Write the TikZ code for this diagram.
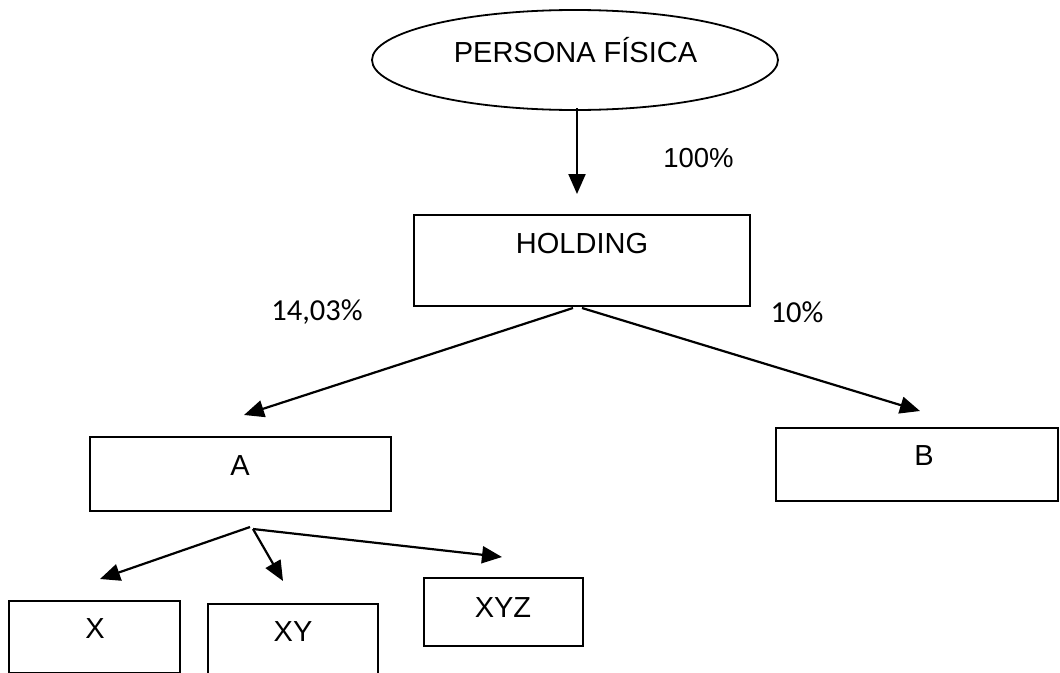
\documentclass[tikz,border=0pt]{standalone}
\usepackage{fontspec}
\setmainfont{Liberation Sans}
\newfontfamily\calib{Carlito}
\usetikzlibrary{shapes.geometric,arrows.meta}
\begin{document}
\begin{tikzpicture}[x=1pt,y=-1pt,
  box/.style={draw,line width=1.8pt,rectangle,inner sep=0pt},
  txt/.style={inner sep=0pt,font=\fontsize{29}{34}\selectfont},
  pct/.style={inner sep=0pt,font=\calib\fontsize{30.5}{36}\selectfont},
  conn/.style={line width=2.2pt,-{Triangle[length=20pt,width=17pt]}}]
\useasboundingbox (0,0) rectangle (1060,672);
\fill[white] (0,0) rectangle (1060,672);
% ellipse
\node[draw,ellipse,line width=1.8pt,minimum width=406pt,minimum height=100pt,inner sep=0pt] (pf) at (575,60) {};
\node[txt] (pft) at (575.5,50) {PERSONA FÍSICA};
% boxes
\node[box,minimum width=336pt,minimum height=91pt] (hold) at (582,260.5) {};
\node[txt] (holdt) at (582,244) {HOLDING};
\node[box,minimum width=301pt,minimum height=74pt] (a) at (240.5,474) {};
\node[txt] (at) at (240,466) {A};
\node[box,minimum width=282pt,minimum height=73pt] (b) at (917,464.5) {};
\node[txt] (bt) at (924,456) {B};
\node[box,minimum width=171pt,minimum height=72pt] (x) at (94.5,637) {};
\node[txt] (xt) at (95,629) {X};
\node[box,minimum width=170pt,minimum height=70pt] (xy) at (293,639) {};
\node[txt] (xyt) at (293,632) {XY};
\node[box,minimum width=159pt,minimum height=68pt] (xyz) at (503.5,612) {};
\node[txt] (xyzt) at (503,608) {XYZ};
% labels
\node[inner sep=0pt,font=\fontsize{27.5}{32}\selectfont] (p100) at (698.5,158) {100\%};
\node[pct] (p14) at (317,312) {14,03\%};
\node[pct] (p10) at (797,312) {10\%};
% connector end points
\coordinate (pfs) at (577,108);
\coordinate (holdin) at (577,194);
\coordinate (holdl) at (573,308);
\coordinate (holdr) at (582,308);
\coordinate (ain) at (244,415);
\coordinate (bin) at (920,411);
\coordinate (aout1) at (250,527);
\coordinate (aout2) at (253,529);
\coordinate (xin) at (100,579);
\coordinate (xyin) at (283,581);
\coordinate (xyzin) at (502,557);
% connectors
\draw[conn] (pfs) -- (holdin);
\draw[conn] (holdl) -- (ain);
\draw[conn] (holdr) -- (bin);
\draw[conn] (aout1) -- (xin);
\draw[conn] (aout2) -- (xyin);
\draw[conn] (aout2) -- (xyzin);
\end{tikzpicture}
\end{document}
